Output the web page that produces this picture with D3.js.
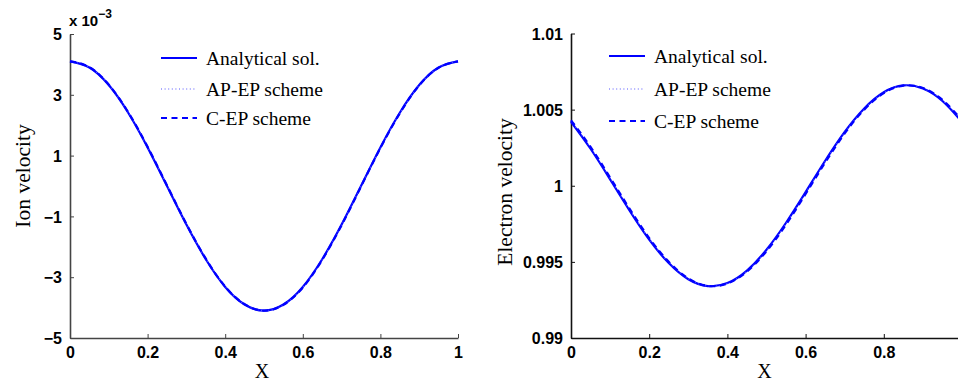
<!DOCTYPE html>
<html>
<head>
<meta charset="utf-8">
<script src="https://cdn.jsdelivr.net/npm/d3@7/dist/d3.min.js"></script>
<style>
  html, body { margin: 0; padding: 0; background: #fff; }
  svg { display: block; }
  .tick text { font-family: "Liberation Sans", Arial, sans-serif; font-weight: bold; font-size: 16px; fill: #000; }
  .lbl { font-family: "Liberation Serif", "Times New Roman", serif; fill: #000; }
</style>
</head>
<body>
<svg id="chart" width="958" height="384"></svg>
<script>
// Sample positions along the domain
const xs = [0, 0.05, 0.1, 0.15, 0.2, 0.25, 0.3, 0.35, 0.4, 0.45, 0.5,
            0.55, 0.6, 0.65, 0.7, 0.75, 0.8, 0.85, 0.9, 0.95, 1];

// Ion velocity (units of 1e-3)
const ionAnalytical = [4.10, 3.90, 3.32, 2.41, 1.27, 0.00, -1.27, -2.41, -3.32, -3.90, -4.10,
                       -3.90, -3.32, -2.41, -1.27, 0.00, 1.27, 2.41, 3.32, 3.90, 4.10];
const ionAPEP       = [4.10, 3.90, 3.32, 2.42, 1.28, 0.01, -1.26, -2.40, -3.31, -3.90, -4.10,
                       -3.91, -3.33, -2.42, -1.28, -0.01, 1.26, 2.40, 3.31, 3.90, 4.10];
const ionCEP        = [4.10, 3.91, 3.33, 2.43, 1.29, 0.02, -1.25, -2.39, -3.31, -3.89, -4.10,
                       -3.91, -3.34, -2.43, -1.29, -0.02, 1.25, 2.39, 3.31, 3.89, 4.10];

// Electron velocity
const eleAnalytical = [1.00420, 1.00243, 1.00042, 0.99836, 0.99646, 0.99492, 0.99386, 0.99341, 0.99361, 0.99443, 0.99580,
                       0.99757, 0.99958, 1.00164, 1.00354, 1.00508, 1.00614, 1.00659, 1.00639, 1.00557, 1.00420];
const eleAPEP       = [1.00425, 1.00249, 1.00048, 0.99842, 0.99651, 0.99496, 0.99388, 0.99341, 0.99359, 0.99440, 0.99575,
                       0.99751, 0.99952, 1.00158, 1.00349, 1.00504, 1.00612, 1.00659, 1.00640, 1.00560, 1.00425];
const eleCEP        = [1.00430, 1.00255, 1.00054, 0.99848, 0.99656, 0.99500, 0.99391, 0.99342, 0.99358, 0.99436, 0.99570,
                       0.99745, 0.99946, 1.00152, 1.00344, 1.00500, 1.00609, 1.00658, 1.00642, 1.00564, 1.00430];

// Tick labels
const xTicks = [0, 0.2, 0.4, 0.6, 0.8, 1];
const xTickLabels = ["0", "0.2", "0.4", "0.6", "0.8", "1"];
const ionTicks = [-5, -3, -1, 1, 3, 5];
const ionTickLabels = ["\u22125", "\u22123", "\u22121", "1", "3", "5"];
const eleTicks = [0.99, 0.995, 1, 1.005, 1.01];
const eleTickLabels = ["0.99", "0.995", "1", "1.005", "1.01"];

const legendNames = ["Analytical sol.", "AP-EP scheme", "C-EP scheme"];

const svg = d3.select("#chart");
const blue = "#0000ff";
const styles = [
  { color: blue, width: 2.2, dash: null },
  { color: "#5555ff", width: 1.2, dash: "1,2.6" },
  { color: blue, width: 2.2, dash: "6,4.5" }
];

function panel(opt) {
  const x = d3.scaleLinear().domain([0, 1]).range([opt.left, opt.right]);
  const y = d3.scaleLinear().domain(opt.yDomain).range([opt.bottom, opt.top]);
  const g = svg.append("g");

  // axes with inward ticks
  const xAxis = d3.axisBottom(x).tickValues(xTicks)
    .tickFormat((d, i) => xTickLabels[i]).tickSizeInner(-4).tickSizeOuter(0).tickPadding(9);
  const yAxis = d3.axisLeft(y).tickValues(opt.yTicks)
    .tickFormat((d, i) => opt.yTickLabels[i]).tickSizeInner(-4).tickSizeOuter(0).tickPadding(8);

  const gx = g.append("g").attr("transform", `translate(0,${opt.bottom})`).call(xAxis);
  const gy = g.append("g").attr("transform", `translate(${opt.left},0)`).call(yAxis);
  [gx, gy].forEach(a => {
    a.select(".domain").attr("stroke", opt.axisColor).attr("stroke-width", 1.6);
    a.selectAll(".tick line").attr("stroke", opt.axisColor).attr("stroke-width", 1);
  });
  gy.selectAll(".tick text").attr("dy", "0.36em");
  gx.selectAll(".tick text").attr("dy", "0.68em");

  // curves
  const line = d3.line().x((d, i) => x(xs[i])).y(d => y(d)).curve(d3.curveNatural);
  opt.series.forEach((s, k) => {
    g.append("path").datum(s)
      .attr("d", line)
      .attr("fill", "none")
      .attr("stroke", styles[k].color)
      .attr("stroke-width", styles[k].width)
      .attr("stroke-dasharray", styles[k].dash);
  });

  // legend
  opt.legendY.forEach((ly, k) => {
    g.append("line")
      .attr("x1", opt.legendX).attr("x2", opt.legendX + 36)
      .attr("y1", ly).attr("y2", ly)
      .attr("stroke", styles[k].color)
      .attr("stroke-width", styles[k].width)
      .attr("stroke-dasharray", styles[k].dash);
    g.append("text").attr("class", "lbl")
      .attr("x", opt.legendX + 45).attr("y", ly + 7)
      .attr("font-size", 19.5)
      .text(legendNames[k]);
  });

  // axis titles
  g.append("text").attr("class", "lbl")
    .attr("x", (opt.left + opt.right) / 2 - 2).attr("y", 378)
    .attr("text-anchor", "middle").attr("font-size", 20)
    .text("X");
  g.append("text").attr("class", "lbl")
    .attr("transform", `translate(${opt.yLabelX},${opt.yLabelY}) rotate(-90)`)
    .attr("text-anchor", "middle").attr("font-size", 21.5)
    .text(opt.yLabel);
  return { x, y, g };
}

const left = panel({
  left: 70, right: 458, top: 34, bottom: 338,
  yDomain: [-5, 5], yTicks: ionTicks, yTickLabels: ionTickLabels,
  axisColor: "#444",
  series: [ionAnalytical, ionAPEP, ionCEP],
  legendX: 161, legendY: [58, 89, 118],
  yLabel: "Ion velocity", yLabelX: 30, yLabelY: 176
});

// exponent marker for the ion axis
const expo = left.g.append("text")
  .attr("x", 69).attr("y", 26)
  .attr("font-family", "Liberation Sans, Arial, sans-serif")
  .attr("font-weight", "bold").attr("font-size", 15);
expo.append("tspan").text("x 10");
expo.append("tspan").attr("dy", -8).attr("font-size", 12).text("\u22123");

panel({
  left: 571, right: 962, top: 33.5, bottom: 338,
  yDomain: [0.99, 1.01], yTicks: eleTicks, yTickLabels: eleTickLabels,
  axisColor: "#111",
  series: [eleAnalytical, eleAPEP, eleCEP],
  legendX: 609, legendY: [56, 89, 121],
  yLabel: "Electron velocity", yLabelX: 512, yLabelY: 192
});
</script>
</body>
</html>
